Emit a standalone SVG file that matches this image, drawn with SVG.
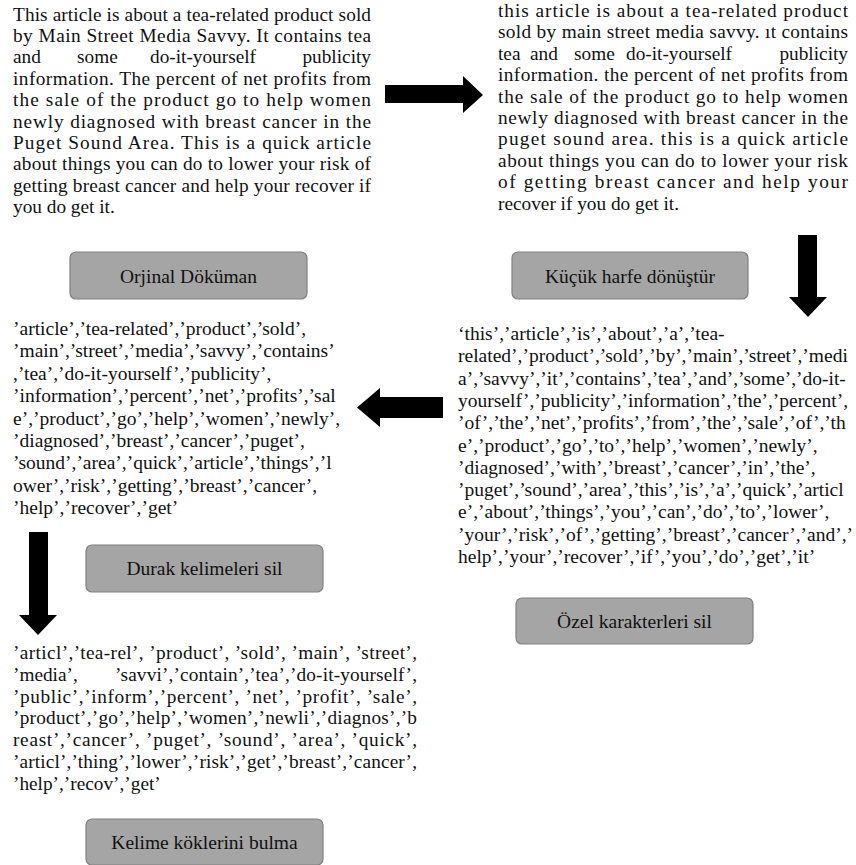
<svg xmlns="http://www.w3.org/2000/svg" width="856" height="865" viewBox="0 0 856 865">
<style>
.t{font-family:"Liberation Serif","Times New Roman",serif;font-size:19.3px;fill:#111}
.l{font-family:"Liberation Serif","Times New Roman",serif;font-size:19.5px;fill:#111}
.b{fill:#a5a5a5;stroke:#808080;stroke-width:1.2}
.bl{font-family:"Liberation Serif","Times New Roman",serif;font-size:19.5px;fill:#111;text-anchor:middle}
.ar{fill:#000}
</style>
<rect width="856" height="865" fill="#fff"/>
<g id="original-text">
<text class="t" x="13" y="20.5" textLength="358" lengthAdjust="spacing">This article is about a tea-related product sold</text>
<text class="t" x="13" y="42" textLength="358" lengthAdjust="spacing">by Main Street Media Savvy. It contains tea</text>
<text class="t" y="63.3"><tspan x="13">and</tspan><tspan x="77">some</tspan><tspan x="150">do-it-yourself</tspan></text>
<text class="t" x="371" y="63.3" text-anchor="end">publicity</text>
<text class="t" x="13" y="84.7" textLength="358" lengthAdjust="spacing">information. The percent of net profits from</text>
<text class="t" x="13" y="106.1" textLength="358" lengthAdjust="spacing">the sale of the product go to help women</text>
<text class="t" x="13" y="127.5" textLength="358" lengthAdjust="spacing">newly diagnosed with breast cancer in the</text>
<text class="t" x="13" y="148.9" textLength="358" lengthAdjust="spacing">Puget Sound Area. This is a quick article</text>
<text class="t" x="13" y="170.3" textLength="358" lengthAdjust="spacing">about things you can do to lower your risk of</text>
<text class="t" x="13" y="191.7" textLength="358" lengthAdjust="spacing">getting breast cancer and help your recover if</text>
<text class="t" x="13" y="213.1">you do get it.</text>
</g>
<g id="lowercase-text">
<text class="t" x="498" y="17" textLength="350" lengthAdjust="spacing">this article is about a tea-related product</text>
<text class="t" x="498" y="38.4" textLength="350" lengthAdjust="spacing">sold by main street media savvy. ıt contains</text>
<text class="t" y="59.8"><tspan x="498">tea</tspan><tspan x="530">and</tspan><tspan x="574">some</tspan><tspan x="626">do-it-yourself</tspan></text>
<text class="t" x="848" y="59.8" text-anchor="end">publicity</text>
<text class="t" x="498" y="81.2" textLength="350" lengthAdjust="spacing">information. the percent of net profits from</text>
<text class="t" x="498" y="102.6" textLength="350" lengthAdjust="spacing">the sale of the product go to help women</text>
<text class="t" x="498" y="124" textLength="350" lengthAdjust="spacing">newly diagnosed with breast cancer in the</text>
<text class="t" x="498" y="145.4" textLength="350" lengthAdjust="spacing">puget sound area. this is a quick article</text>
<text class="t" x="498" y="166.8" textLength="350" lengthAdjust="spacing">about things you can do to lower your risk</text>
<text class="t" x="498" y="188.2" textLength="350" lengthAdjust="spacing">of getting breast cancer and help your</text>
<text class="t" x="498" y="209.6">recover if you do get it.</text>
</g>
<g id="tokens-text">
<text class="l" x="458" y="340">‘this’,’article’,’is’,’about’,’a’,’tea-</text>
<text class="l" x="458" y="362.3">related’,’product’,’sold’,’by’,’main’,’street’,’medi</text>
<text class="l" x="458" y="384.6">a’,’savvy’,’it’,’contains’,’tea’,’and’,’some’,’do-it-</text>
<text class="l" x="458" y="406.9">yourself’,’publicity’,’information’,’the’,’percent’,</text>
<text class="l" x="458" y="429.2">’of’,’the’,’net’,’profits’,’from’,’the’,’sale’,’of’,’th</text>
<text class="l" x="458" y="451.5">e’,’product’,’go’,’to’,’help’,’women’,’newly’,</text>
<text class="l" x="458" y="473.8">’diagnosed’,’with’,’breast’,’cancer’,’in’,’the’,</text>
<text class="l" x="458" y="496.1">’puget’,’sound’,’area’,’this’,’is’,’a’,’quick’,’articl</text>
<text class="l" x="458" y="518.4">e’,’about’,’things’,’you’,’can’,’do’,’to’,’lower’,</text>
<text class="l" x="458" y="540.7">’your’,’risk’,’of’,’getting’,’breast’,’cancer’,’and’,’</text>
<text class="l" x="458" y="563">help’,’your’,’recover’,’if’,’you’,’do’,’get’,’it’</text>
</g>
<g id="stopword-text">
<text class="l" x="13" y="335">’article’,’tea-related’,’product’,’sold’,</text>
<text class="l" x="13" y="357.4">’main’,’street’,’media’,’savvy’,’contains’</text>
<text class="l" x="13" y="379.8">,’tea’,’do-it-yourself’,’publicity’,</text>
<text class="l" x="13" y="402.2">’information’,’percent’,’net’,’profits’,’sal</text>
<text class="l" x="13" y="424.6">e’,’product’,’go’,’help’,’women’,’newly’,</text>
<text class="l" x="13" y="447">’diagnosed’,’breast’,’cancer’,’puget’,</text>
<text class="l" x="13" y="469.4">’sound’,’area’,’quick’,’article’,’things’,’l</text>
<text class="l" x="13" y="491.8">ower’,’risk’,’getting’,’breast’,’cancer’,</text>
<text class="l" x="13" y="514.2">’help’,’recover’,’get’</text>
</g>
<g id="stem-text">
<text class="t" x="13" y="659" textLength="404" lengthAdjust="spacing">’articl’,’tea-rel’, ’product’, ’sold’, ’main’, ’street’,</text>
<text class="t" y="680.8"><tspan x="13">’media’,</tspan><tspan x="115" textLength="302" lengthAdjust="spacing">’savvi’,’contain’,’tea’,’do-it-yourself’,</tspan></text>
<text class="t" x="13" y="702.6" textLength="404" lengthAdjust="spacing">’public’,’inform’,’percent’, ’net’, ’profit’, ’sale’,</text>
<text class="t" x="13" y="724.4" textLength="404" lengthAdjust="spacing">’product’,’go’,’help’,’women’,’newli’,’diagnos’,’b</text>
<text class="t" x="13" y="746.2" textLength="404" lengthAdjust="spacing">reast’,’cancer’, ’puget’, ’sound’, ’area’, ’quick’,</text>
<text class="t" x="13" y="768" textLength="404" lengthAdjust="spacing">’articl’,’thing’,’lower’,’risk’,’get’,’breast’,’cancer’,</text>
<text class="t" x="13" y="789.8">’help’,’recov’,’get’</text>
</g>
<g id="btn-orjinal">
<rect class="b" x="70" y="252" width="237" height="47" rx="6"/>
<text class="bl" x="188.5" y="282.5">Orjinal Döküman</text>
</g>
<g id="btn-kucuk">
<rect class="b" x="512" y="252" width="236" height="47" rx="6"/>
<text class="bl" x="630" y="282.5">Küçük harfe dönüştür</text>
</g>
<g id="btn-ozel">
<rect class="b" x="516" y="598" width="237" height="46" rx="6"/>
<text class="bl" x="634.5" y="628">Özel karakterleri sil</text>
</g>
<g id="btn-durak">
<rect class="b" x="86" y="545" width="237" height="47" rx="6"/>
<text class="bl" x="204.5" y="575">Durak kelimeleri sil</text>
</g>
<g id="btn-kelime">
<rect class="b" x="86" y="819" width="237" height="46" rx="6"/>
<text class="bl" x="204.5" y="849">Kelime köklerini bulma</text>
</g>
<g id="connectors">
<polygon class="ar" points="385,85 463,85 463,76 483,95 463,113 463,103 385,103"/>
<polygon class="ar" points="798,235 817,235 817,297 827,297 808,317 789,297 798,297"/>
<polygon class="ar" points="443,397 380,397 380,388 357,407.5 380,427 380,418 443,418"/>
<polygon class="ar" points="29,532 48,532 48,615 57,615 38,635 19,615 29,615"/>
</g>
</svg>
